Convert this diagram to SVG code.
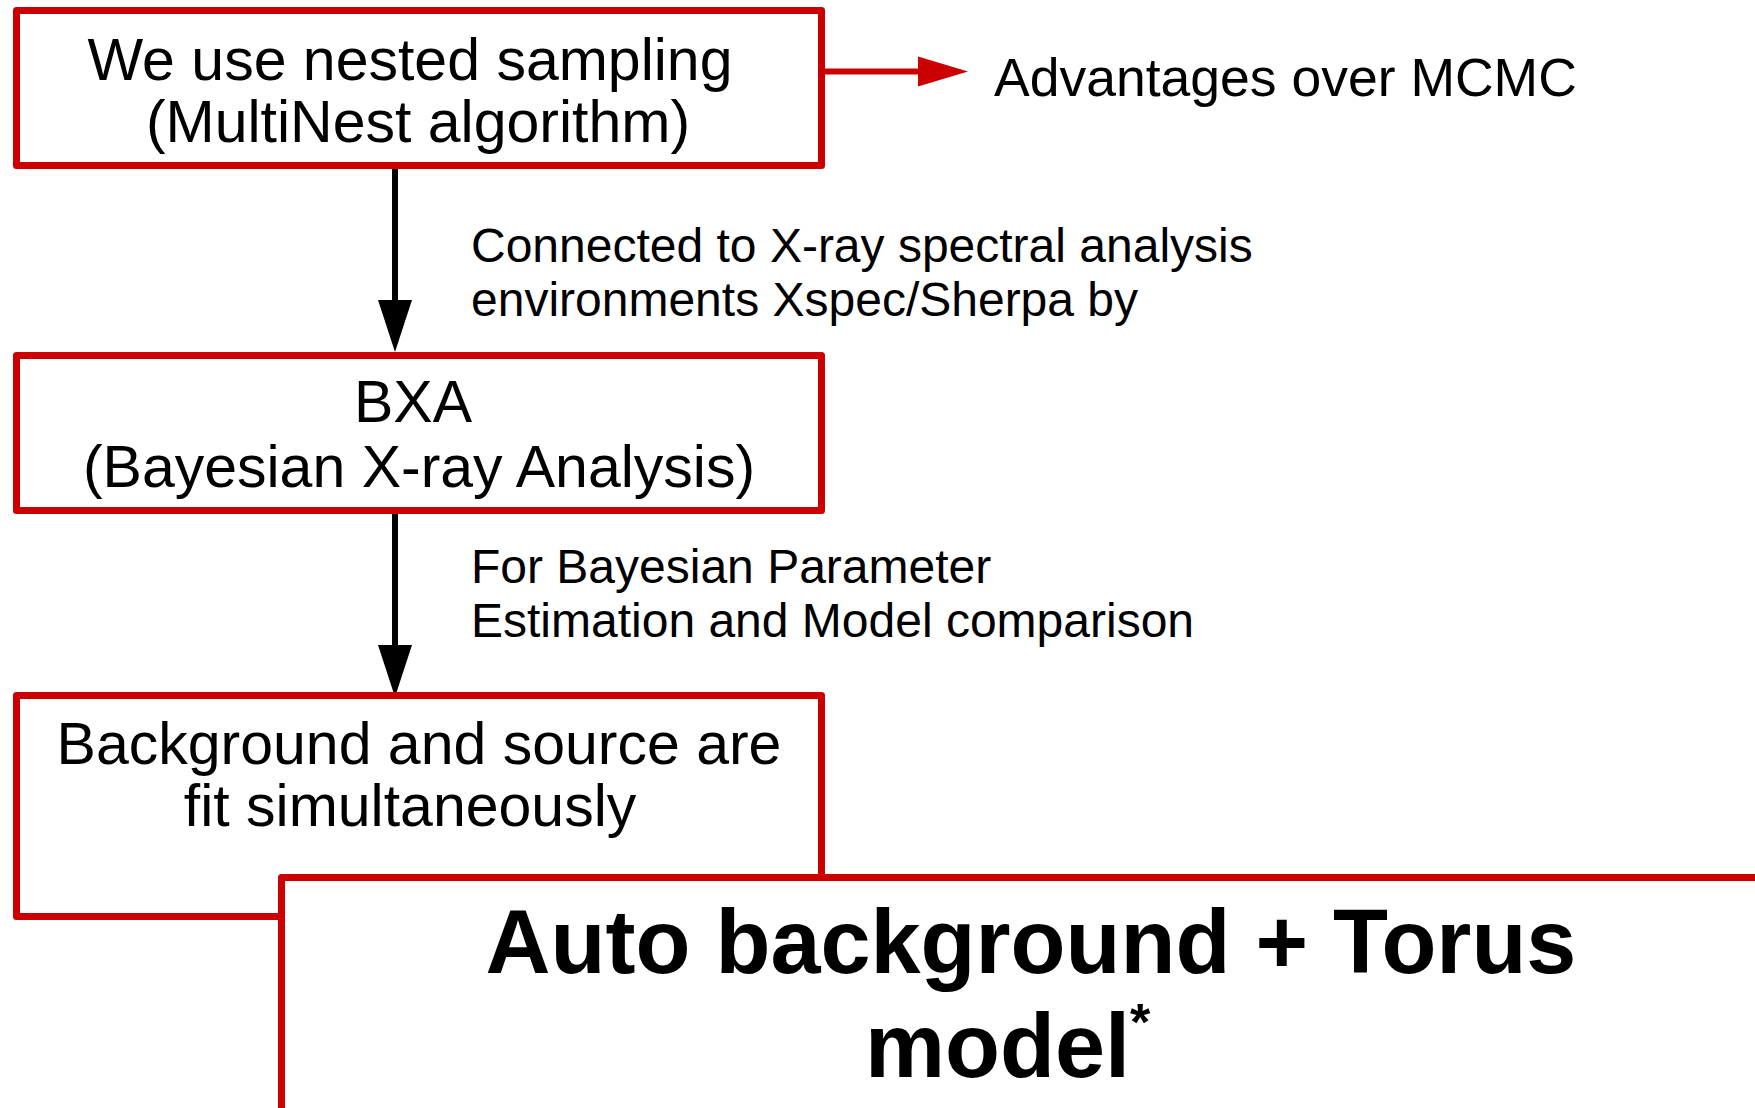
<svg xmlns="http://www.w3.org/2000/svg" width="1755" height="1108" viewBox="0 0 1755 1108">
<style>
.box{fill:#ffffff;stroke:#cc0000;stroke-width:7;stroke-linejoin:round}
.t{font-family:"Liberation Sans",Arial,sans-serif;fill:#000000}
.bt{font-size:59px;text-anchor:middle}
.lb{font-size:48px}
.big{font-size:90px;font-weight:bold}
.conn{stroke:#000000;stroke-width:6;fill:none}
.rconn{stroke:#cc0000;stroke-width:6;fill:none}
</style>
<defs>
<marker id="ah" markerUnits="userSpaceOnUse" markerWidth="54" markerHeight="36" refX="0" refY="17" orient="auto" overflow="visible">
<path d="M0,0 L52,17 L0,34 z" fill="#000000"/>
</marker>
<marker id="rah" markerUnits="userSpaceOnUse" markerWidth="52" markerHeight="32" refX="0" refY="15" orient="auto" overflow="visible">
<path d="M0,0 L50,15 L0,30 z" fill="#cc0000"/>
</marker>
</defs>
<rect width="1755" height="1108" fill="#ffffff"/>
<g id="connectors">
<line class="rconn" x1="815" y1="71.5" x2="918" y2="71.5" marker-end="url(#rah)"/>
<line class="conn" x1="395" y1="168" x2="395" y2="300" marker-end="url(#ah)"/>
<line class="conn" x1="395" y1="513" x2="395" y2="645" marker-end="url(#ah)"/>
</g>
<g id="node-nested">
<rect class="box" x="16.5" y="10.5" width="805" height="155"/>
<text class="t bt" x="410" y="80">We use nested sampling</text>
<text class="t bt" x="418" y="142">(MultiNest algorithm)</text>
</g>
<g id="node-advantages">
<text class="t" x="994" y="96" font-size="53.5">Advantages over MCMC</text>
</g>
<g id="label-connected">
<text class="t lb" x="471" y="262">Connected to X-ray spectral analysis</text>
<text class="t lb" x="471" y="316">environments Xspec/Sherpa by</text>
</g>
<g id="node-bxa">
<rect class="box" x="16.5" y="355.5" width="805" height="155"/>
<text class="t bt" x="413" y="422">BXA</text>
<text class="t bt" x="419" y="487">(Bayesian X-ray Analysis)</text>
</g>
<g id="label-bayesian">
<text class="t lb" x="471" y="583">For Bayesian Parameter</text>
<text class="t lb" x="471" y="637">Estimation and Model comparison</text>
</g>
<g id="node-background">
<rect class="box" x="16.5" y="695.5" width="805" height="221"/>
<text class="t bt" x="419" y="764">Background and source are</text>
<text class="t bt" x="410" y="826">fit simultaneously</text>
</g>
<g id="node-torus">
<rect class="box" x="281.5" y="877.5" width="1600" height="400"/>
<text class="t big" x="1031" y="973" text-anchor="middle">Auto background + Torus</text>
<text class="t big" x="865" y="1077">model<tspan font-size="52" dy="-37">*</tspan></text>
</g>
</svg>
